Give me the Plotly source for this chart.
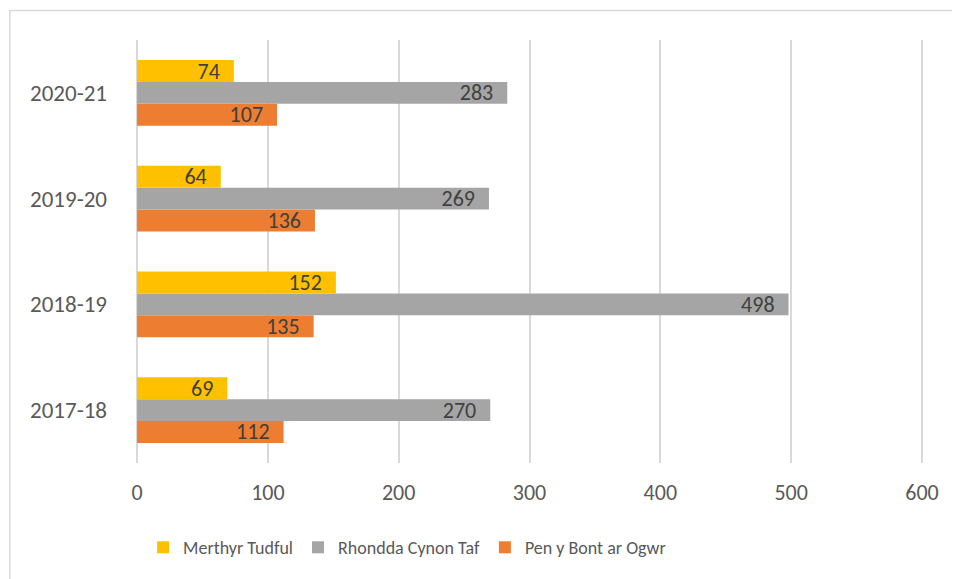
import plotly.graph_objects as go

years = ["2017-18", "2018-19", "2019-20", "2020-21"]
merthyr = [69, 152, 64, 74]
rhondda = [270, 498, 269, 283]
penybont = [112, 135, 136, 107]
x_ticks = [0, 100, 200, 300, 400, 500, 600]

FONT = "Calibri, Carlito, Lato, sans-serif"
TXT = "#595959"

series = [
    ("Pen y Bont ar Ogwr", penybont, "#ED7D31"),
    ("Rhondda Cynon Taf", rhondda, "#A5A5A5"),
    ("Merthyr Tudful", merthyr, "#FFC000"),
]

fig = go.Figure()
for name, vals, col in series:
    fig.add_trace(go.Bar(
        y=years, x=vals, name=name, orientation="h",
        marker=dict(color=col, line=dict(width=0)),
        text=[f"{v}\u2002" for v in vals], textposition="inside",
        insidetextanchor="end", constraintext="none", textangle=0,
        textfont=dict(family=FONT, size=22, color="#404040"),
        cliponaxis=False,
    ))

fig.update_layout(
    width=952, height=571,
    margin=dict(l=128, r=37, t=32, b=116),
    paper_bgcolor="white", plot_bgcolor="white",
    barmode="group", bargap=0.38, bargroupgap=0,
    font=dict(family=FONT, size=22, color=TXT),
    legend=dict(orientation="h", x=0.009, xanchor="left", y=-0.2, yanchor="middle",
                traceorder="reversed", font=dict(family=FONT, size=18, color=TXT),
                itemwidth=30),
    xaxis=dict(range=[-0.8, 600.8], tickvals=x_ticks, showgrid=True, gridcolor="#D9D9D9",
               gridwidth=1.5, zeroline=False, showline=False, ticks="",
               ticklabelstandoff=14, tickfont=dict(family=FONT, size=22, color=TXT)),
    yaxis=dict(showgrid=False, zeroline=False, showline=False, ticks="",
               ticklabelstandoff=28, tickfont=dict(family=FONT, size=23, color=TXT)),
    shapes=[dict(type="rect", xref="paper", yref="paper",
                 x0=-0.1603, x1=1.06, y0=-0.29, y1=1.0697,
                 line=dict(color="#D9D9D9", width=1.5), fillcolor="rgba(0,0,0,0)", layer="below")],
)

fig.write_html("out.html")
